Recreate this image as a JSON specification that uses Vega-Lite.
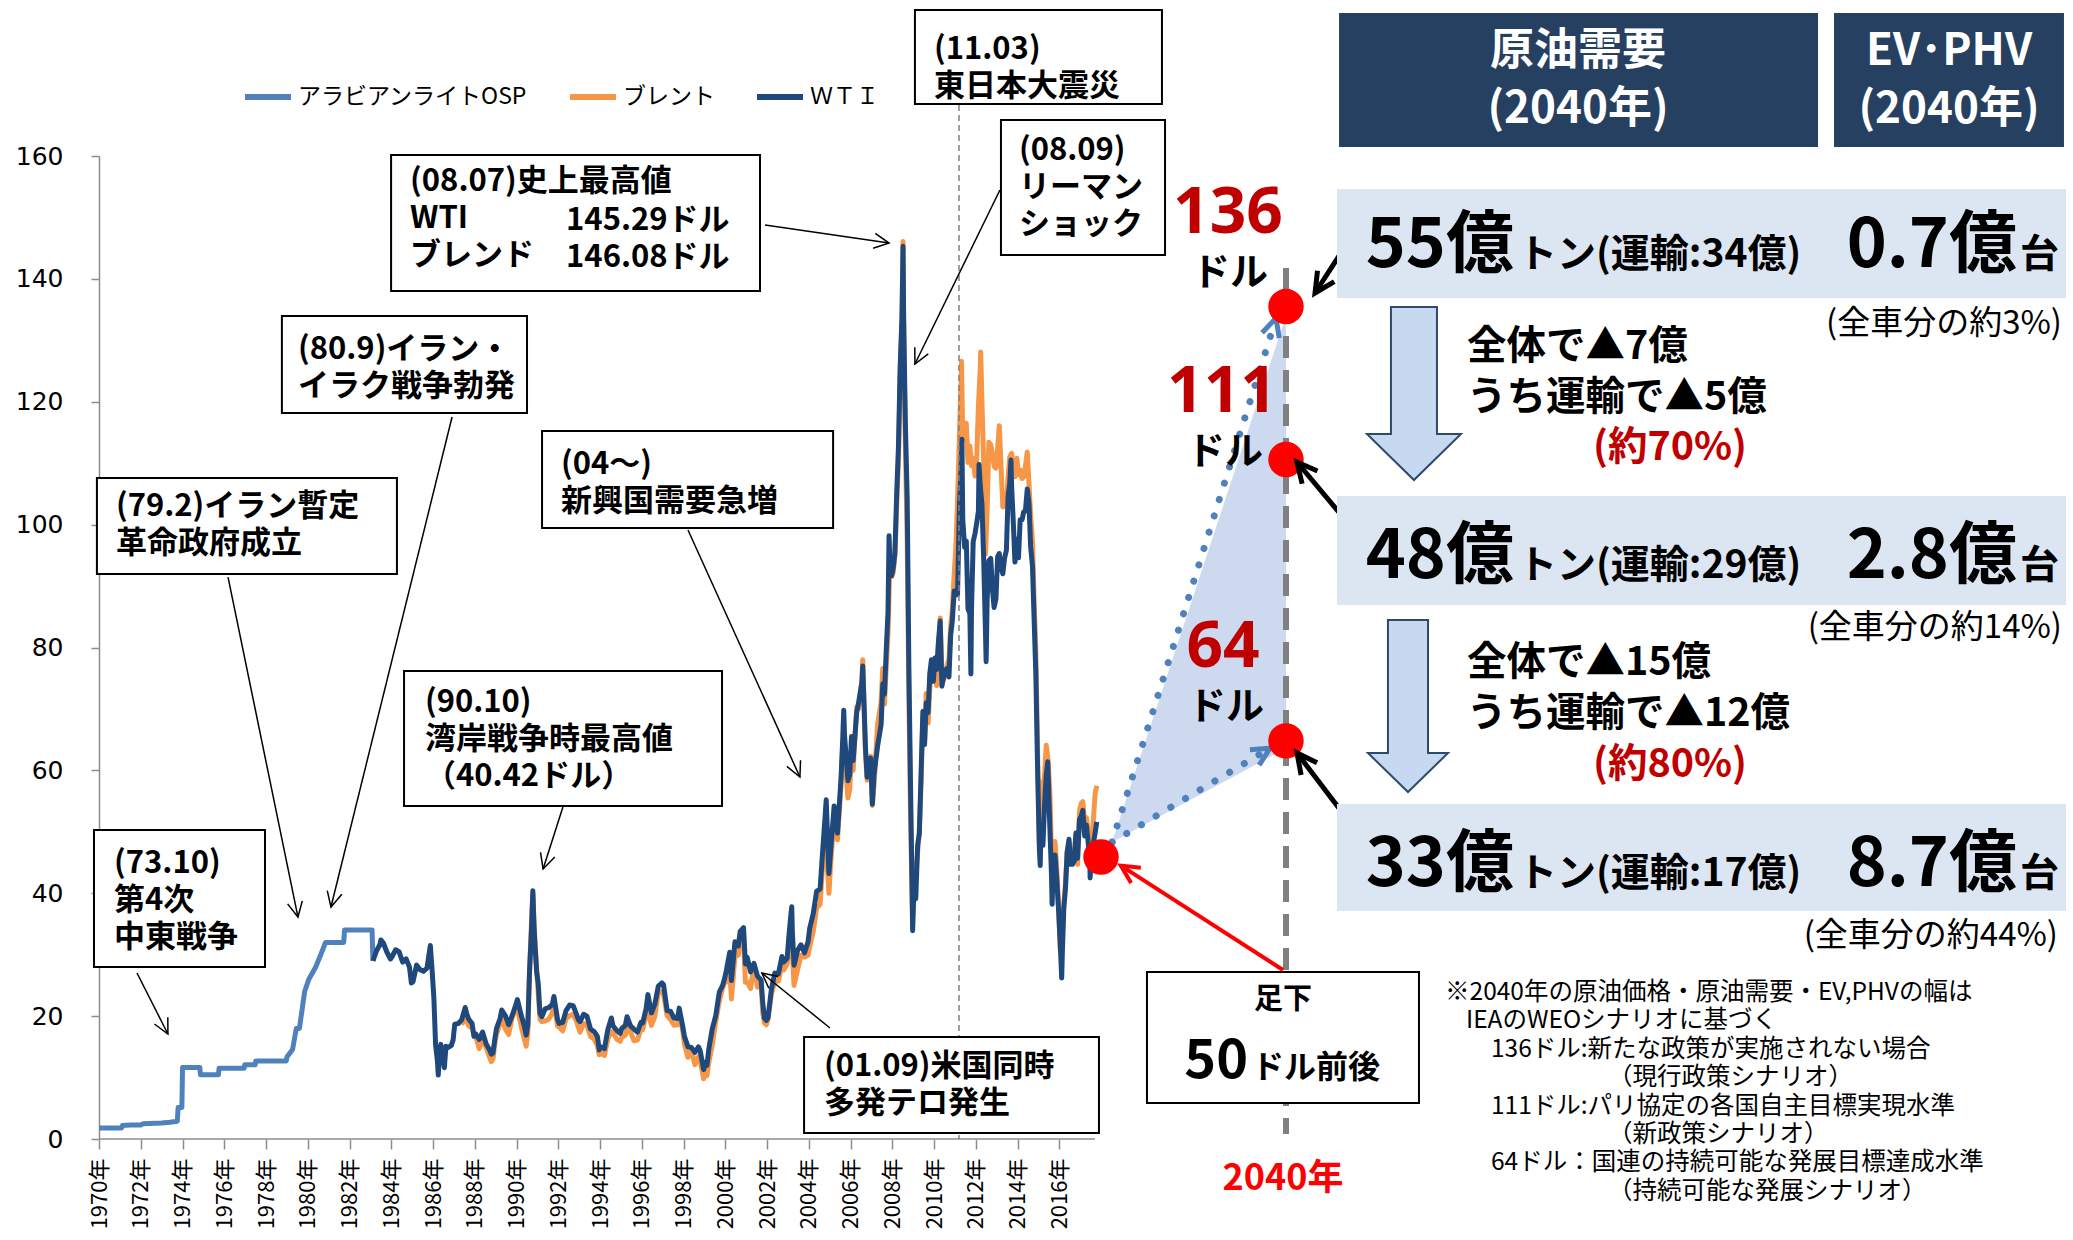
{
"$schema":"https://vega.github.io/schema/vega-lite/v6.json",
"width":1187,"height":983,
"autosize":"none",
"padding":{"left":99,"top":156,"right":787,"bottom":101},
"background":"#ffffff",
"config":{"view":{"stroke":null},"font":"Noto Sans CJK JP"},
"datasets":{
"osp":[{"t":1970.0,"v":1.8},{"t":1971.08,"v":1.8},{"t":1971.12,"v":2.18},{"t":1971.5,"v":2.28},{"t":1972.0,"v":2.28},{"t":1972.1,"v":2.47},{"t":1973.0,"v":2.59},{"t":1973.4,"v":2.74},{"t":1973.75,"v":2.9},{"t":1973.79,"v":5.12},{"t":1973.97,"v":5.12},{"t":1974.0,"v":11.65},{"t":1974.83,"v":11.65},{"t":1974.86,"v":10.46},{"t":1975.72,"v":10.46},{"t":1975.75,"v":11.51},{"t":1976.95,"v":11.51},{"t":1976.98,"v":12.09},{"t":1977.48,"v":12.09},{"t":1977.51,"v":12.7},{"t":1978.97,"v":12.7},{"t":1979.0,"v":13.34},{"t":1979.27,"v":14.55},{"t":1979.45,"v":18.0},{"t":1979.6,"v":18.0},{"t":1979.85,"v":24.0},{"t":1980.05,"v":26.0},{"t":1980.38,"v":28.0},{"t":1980.62,"v":30.0},{"t":1980.85,"v":32.0},{"t":1981.72,"v":32.0},{"t":1981.76,"v":34.0},{"t":1983.08,"v":34.0},{"t":1983.12,"v":29.0}],
"brent":[{"t":1987.37,"v":18.6},{"t":1987.54,"v":19.9},{"t":1987.71,"v":18.4},{"t":1987.87,"v":18.1},{"t":1987.96,"v":16.8},
{"t":1988.04,"v":16.8},{"t":1988.21,"v":14.7},{"t":1988.37,"v":16.2},{"t":1988.54,"v":14.9},{"t":1988.71,"v":13.3},{"t":1988.79,"v":12.6},{"t":1988.87,"v":13.0},{"t":1988.96,"v":15.6},
{"t":1989.04,"v":17.1},{"t":1989.21,"v":18.7},{"t":1989.29,"v":20.3},{"t":1989.46,"v":17.9},{"t":1989.62,"v":17.0},{"t":1989.79,"v":19.8},{"t":1989.96,"v":21.1},
{"t":1990.04,"v":21.3},{"t":1990.21,"v":18.5},{"t":1990.37,"v":16.3},{"t":1990.46,"v":15.1},{"t":1990.54,"v":17.2},{"t":1990.62,"v":27.2},{"t":1990.71,"v":34.9},{"t":1990.78,"v":40.0},{"t":1990.83,"v":36.0},{"t":1990.87,"v":32.9},{"t":1990.96,"v":27.8},
{"t":1991.04,"v":23.6},{"t":1991.12,"v":19.5},{"t":1991.21,"v":19.1},{"t":1991.37,"v":19.2},{"t":1991.54,"v":19.5},{"t":1991.71,"v":20.5},{"t":1991.79,"v":22.2},{"t":1991.96,"v":18.4},
{"t":1992.04,"v":18.2},{"t":1992.21,"v":17.6},{"t":1992.37,"v":19.6},{"t":1992.54,"v":20.1},{"t":1992.71,"v":20.3},{"t":1992.87,"v":19.2},{"t":1992.96,"v":18.2},
{"t":1993.04,"v":17.4},{"t":1993.21,"v":18.8},{"t":1993.37,"v":18.6},{"t":1993.54,"v":16.7},{"t":1993.71,"v":16.3},{"t":1993.87,"v":15.2},{"t":1993.96,"v":13.7},
{"t":1994.04,"v":14.0},{"t":1994.21,"v":13.6},{"t":1994.37,"v":16.3},{"t":1994.54,"v":17.5},{"t":1994.62,"v":17.3},{"t":1994.79,"v":16.3},{"t":1994.96,"v":15.9},
{"t":1995.04,"v":16.6},{"t":1995.21,"v":16.9},{"t":1995.29,"v":18.5},{"t":1995.46,"v":17.4},{"t":1995.62,"v":16.0},{"t":1995.79,"v":16.1},{"t":1995.96,"v":17.9},
{"t":1996.04,"v":17.8},{"t":1996.21,"v":20.2},{"t":1996.29,"v":20.9},{"t":1996.46,"v":18.5},{"t":1996.62,"v":19.9},{"t":1996.79,"v":24.0},{"t":1996.96,"v":23.9},
{"t":1997.04,"v":23.5},{"t":1997.21,"v":20.1},{"t":1997.37,"v":19.5},{"t":1997.54,"v":18.5},{"t":1997.71,"v":18.6},{"t":1997.79,"v":20.4},{"t":1997.96,"v":17.6},
{"t":1998.04,"v":15.4},{"t":1998.21,"v":13.3},{"t":1998.37,"v":14.5},{"t":1998.54,"v":12.1},{"t":1998.71,"v":13.4},{"t":1998.79,"v":12.8},{"t":1998.96,"v":9.8},
{"t":1999.04,"v":11.1},{"t":1999.12,"v":10.3},{"t":1999.21,"v":12.5},{"t":1999.37,"v":15.3},{"t":1999.54,"v":19.1},{"t":1999.71,"v":22.5},{"t":1999.87,"v":24.6},{"t":1999.96,"v":25.5},
{"t":2000.04,"v":25.5},{"t":2000.21,"v":27.5},{"t":2000.29,"v":22.8},{"t":2000.46,"v":29.8},{"t":2000.62,"v":29.9},{"t":2000.71,"v":33.0},{"t":2000.87,"v":32.5},{"t":2000.96,"v":25.5},
{"t":2001.04,"v":25.6},{"t":2001.21,"v":24.5},{"t":2001.37,"v":28.5},{"t":2001.54,"v":24.7},{"t":2001.71,"v":25.6},{"t":2001.79,"v":20.5},{"t":2001.87,"v":18.9},{"t":2001.96,"v":18.6},
{"t":2002.04,"v":19.4},{"t":2002.21,"v":23.7},{"t":2002.37,"v":25.6},{"t":2002.54,"v":25.7},{"t":2002.71,"v":28.4},{"t":2002.79,"v":27.5},{"t":2002.96,"v":28.5},
{"t":2003.04,"v":31.2},{"t":2003.12,"v":32.8},{"t":2003.21,"v":30.3},{"t":2003.29,"v":25.0},{"t":2003.46,"v":27.6},{"t":2003.62,"v":29.9},{"t":2003.79,"v":29.6},{"t":2003.96,"v":29.9},
{"t":2004.04,"v":31.4},{"t":2004.21,"v":33.8},{"t":2004.37,"v":37.6},{"t":2004.54,"v":38.2},{"t":2004.62,"v":42.7},{"t":2004.79,"v":49.8},{"t":2004.96,"v":40.0},
{"t":2005.04,"v":44.5},{"t":2005.21,"v":53.1},{"t":2005.29,"v":51.9},{"t":2005.37,"v":48.7},{"t":2005.54,"v":57.6},{"t":2005.62,"v":64.1},{"t":2005.71,"v":62.8},{"t":2005.87,"v":55.5},{"t":2005.96,"v":56.9},
{"t":2006.04,"v":63.1},{"t":2006.12,"v":60.0},{"t":2006.29,"v":70.3},{"t":2006.37,"v":70.0},{"t":2006.54,"v":74.4},{"t":2006.58,"v":78.0},{"t":2006.62,"v":73.1},{"t":2006.71,"v":62.8},{"t":2006.79,"v":58.4},{"t":2006.96,"v":62.3},
{"t":2007.04,"v":54.3},{"t":2007.12,"v":57.6},{"t":2007.29,"v":67.5},{"t":2007.46,"v":71.1},{"t":2007.54,"v":76.6},{"t":2007.62,"v":70.8},{"t":2007.71,"v":77.1},{"t":2007.79,"v":82.3},{"t":2007.87,"v":92.5},{"t":2007.96,"v":91.5},
{"t":2008.04,"v":92.2},{"t":2008.12,"v":94.9},{"t":2008.21,"v":103.3},{"t":2008.29,"v":110.4},{"t":2008.37,"v":123.9},{"t":2008.46,"v":133.1},{"t":2008.51,"v":146.1},{"t":2008.54,"v":133.0},{"t":2008.62,"v":113.2},{"t":2008.71,"v":97.2},{"t":2008.79,"v":71.6},{"t":2008.87,"v":52.5},{"t":2008.94,"v":40.4},{"t":2008.97,"v":36.0},
{"t":2009.04,"v":44.9},{"t":2009.12,"v":43.2},{"t":2009.21,"v":46.8},{"t":2009.29,"v":50.1},{"t":2009.37,"v":57.5},{"t":2009.46,"v":68.6},{"t":2009.54,"v":64.4},{"t":2009.62,"v":72.5},{"t":2009.71,"v":67.7},{"t":2009.79,"v":73.2},{"t":2009.87,"v":77.0},{"t":2009.96,"v":74.7},
{"t":2010.04,"v":76.2},{"t":2010.12,"v":73.8},{"t":2010.21,"v":78.8},{"t":2010.29,"v":84.8},{"t":2010.37,"v":75.9},{"t":2010.46,"v":74.8},{"t":2010.54,"v":75.6},{"t":2010.62,"v":77.1},{"t":2010.71,"v":78.2},{"t":2010.79,"v":83.5},{"t":2010.87,"v":86.1},{"t":2010.96,"v":92.0},
{"t":2011.04,"v":96.5},{"t":2011.12,"v":103.7},{"t":2011.21,"v":114.6},{"t":2011.29,"v":123.3},{"t":2011.31,"v":126.6},{"t":2011.37,"v":114.5},{"t":2011.46,"v":113.9},{"t":2011.54,"v":116.5},{"t":2011.62,"v":110.1},{"t":2011.71,"v":112.8},{"t":2011.79,"v":109.6},{"t":2011.87,"v":110.8},{"t":2011.96,"v":107.9},
{"t":2012.04,"v":110.7},{"t":2012.12,"v":119.3},{"t":2012.21,"v":125.5},{"t":2012.23,"v":128.1},{"t":2012.29,"v":119.8},{"t":2012.37,"v":110.3},{"t":2012.46,"v":95.2},{"t":2012.54,"v":102.6},{"t":2012.62,"v":113.4},{"t":2012.71,"v":113.0},{"t":2012.79,"v":111.5},{"t":2012.87,"v":109.5},{"t":2012.96,"v":109.2},
{"t":2013.04,"v":112.3},{"t":2013.12,"v":116.1},{"t":2013.21,"v":109.0},{"t":2013.29,"v":102.9},{"t":2013.37,"v":103.0},{"t":2013.46,"v":103.1},{"t":2013.54,"v":107.7},{"t":2013.62,"v":111.0},{"t":2013.71,"v":111.6},{"t":2013.79,"v":109.1},{"t":2013.87,"v":107.8},{"t":2013.96,"v":110.8},
{"t":2014.04,"v":108.1},{"t":2014.12,"v":108.9},{"t":2014.21,"v":107.5},{"t":2014.29,"v":107.8},{"t":2014.37,"v":109.5},{"t":2014.46,"v":111.8},{"t":2014.54,"v":106.8},{"t":2014.62,"v":101.6},{"t":2014.71,"v":97.1},{"t":2014.79,"v":87.4},{"t":2014.87,"v":79.4},{"t":2014.96,"v":62.3},
{"t":2015.04,"v":47.8},{"t":2015.12,"v":58.1},{"t":2015.21,"v":56.0},{"t":2015.29,"v":59.5},{"t":2015.37,"v":64.1},{"t":2015.46,"v":61.5},{"t":2015.54,"v":56.6},{"t":2015.62,"v":46.5},{"t":2015.71,"v":47.6},{"t":2015.79,"v":48.4},{"t":2015.87,"v":44.3},{"t":2015.96,"v":38.0},
{"t":2016.04,"v":30.7},{"t":2016.12,"v":32.2},{"t":2016.21,"v":38.2},{"t":2016.29,"v":41.6},{"t":2016.37,"v":46.7},{"t":2016.46,"v":48.3},{"t":2016.54,"v":44.9},{"t":2016.62,"v":45.8},{"t":2016.71,"v":46.6},{"t":2016.79,"v":49.5},{"t":2016.87,"v":44.7},{"t":2016.96,"v":53.3},
{"t":2017.04,"v":54.6},{"t":2017.12,"v":54.9},{"t":2017.21,"v":51.6},{"t":2017.29,"v":52.3},{"t":2017.37,"v":50.3},{"t":2017.46,"v":46.4},{"t":2017.54,"v":48.5},{"t":2017.62,"v":51.7},{"t":2017.71,"v":56.2},{"t":2017.79,"v":57.5}],
"wti":[{"t":1983.12,"v":29.0},{"t":1983.29,"v":30.6},{"t":1983.46,"v":31.7},{"t":1983.5,"v":32.4},{"t":1983.62,"v":31.9},{"t":1983.79,"v":30.4},{"t":1983.96,"v":29.3},
{"t":1984.04,"v":29.7},{"t":1984.21,"v":30.8},{"t":1984.37,"v":30.5},{"t":1984.54,"v":28.8},{"t":1984.71,"v":29.3},{"t":1984.87,"v":28.0},{"t":1984.96,"v":25.4},
{"t":1985.04,"v":25.6},{"t":1985.21,"v":28.3},{"t":1985.37,"v":27.6},{"t":1985.54,"v":27.3},{"t":1985.71,"v":27.8},{"t":1985.87,"v":31.5},{"t":1985.96,"v":27.2},
{"t":1986.04,"v":22.9},{"t":1986.12,"v":15.4},{"t":1986.21,"v":12.6},{"t":1986.25,"v":10.4},{"t":1986.29,"v":12.8},{"t":1986.37,"v":15.4},{"t":1986.46,"v":13.5},{"t":1986.54,"v":11.6},{"t":1986.62,"v":15.1},{"t":1986.71,"v":14.9},{"t":1986.87,"v":15.2},{"t":1986.96,"v":16.1},
{"t":1987.04,"v":18.7},{"t":1987.21,"v":18.8},{"t":1987.37,"v":19.4},{"t":1987.54,"v":21.4},{"t":1987.62,"v":20.3},{"t":1987.71,"v":19.5},{"t":1987.87,"v":18.8},{"t":1987.96,"v":16.7},
{"t":1988.04,"v":17.1},{"t":1988.21,"v":16.2},{"t":1988.37,"v":17.4},{"t":1988.54,"v":15.5},{"t":1988.71,"v":14.5},{"t":1988.79,"v":13.8},{"t":1988.87,"v":14.0},{"t":1988.96,"v":16.3},
{"t":1989.04,"v":18.0},{"t":1989.21,"v":19.6},{"t":1989.29,"v":21.0},{"t":1989.46,"v":20.1},{"t":1989.62,"v":18.6},{"t":1989.79,"v":20.1},{"t":1989.96,"v":21.8},
{"t":1990.04,"v":22.7},{"t":1990.21,"v":20.3},{"t":1990.37,"v":18.4},{"t":1990.46,"v":16.9},{"t":1990.54,"v":18.6},{"t":1990.62,"v":27.2},{"t":1990.71,"v":33.7},{"t":1990.78,"v":40.4},{"t":1990.83,"v":35.0},{"t":1990.87,"v":32.3},{"t":1990.96,"v":27.3},
{"t":1991.04,"v":25.2},{"t":1991.12,"v":20.5},{"t":1991.21,"v":19.9},{"t":1991.37,"v":21.2},{"t":1991.54,"v":21.4},{"t":1991.71,"v":21.9},{"t":1991.79,"v":23.2},{"t":1991.96,"v":19.5},
{"t":1992.04,"v":18.8},{"t":1992.21,"v":19.0},{"t":1992.37,"v":20.9},{"t":1992.54,"v":21.8},{"t":1992.71,"v":21.7},{"t":1992.87,"v":20.3},{"t":1992.96,"v":19.4},
{"t":1993.04,"v":19.1},{"t":1993.21,"v":20.3},{"t":1993.37,"v":20.0},{"t":1993.54,"v":17.9},{"t":1993.71,"v":17.5},{"t":1993.87,"v":16.7},{"t":1993.96,"v":14.5},
{"t":1994.04,"v":15.0},{"t":1994.21,"v":14.7},{"t":1994.37,"v":17.8},{"t":1994.54,"v":19.7},{"t":1994.62,"v":18.4},{"t":1994.79,"v":17.7},{"t":1994.96,"v":17.2},
{"t":1995.04,"v":18.0},{"t":1995.21,"v":18.5},{"t":1995.29,"v":19.9},{"t":1995.46,"v":18.4},{"t":1995.62,"v":17.9},{"t":1995.79,"v":17.4},{"t":1995.96,"v":19.0},
{"t":1996.04,"v":18.9},{"t":1996.21,"v":21.3},{"t":1996.29,"v":23.5},{"t":1996.46,"v":20.5},{"t":1996.62,"v":21.9},{"t":1996.79,"v":24.9},{"t":1996.96,"v":25.4},
{"t":1997.04,"v":25.1},{"t":1997.21,"v":20.9},{"t":1997.37,"v":20.8},{"t":1997.54,"v":19.7},{"t":1997.71,"v":19.6},{"t":1997.79,"v":21.3},{"t":1997.96,"v":18.3},
{"t":1998.04,"v":16.7},{"t":1998.21,"v":15.0},{"t":1998.37,"v":14.9},{"t":1998.54,"v":14.1},{"t":1998.71,"v":15.0},{"t":1998.79,"v":14.4},{"t":1998.96,"v":11.3},
{"t":1999.04,"v":12.5},{"t":1999.12,"v":12.0},{"t":1999.21,"v":14.7},{"t":1999.37,"v":17.9},{"t":1999.54,"v":20.1},{"t":1999.71,"v":23.9},{"t":1999.87,"v":25.0},{"t":1999.96,"v":26.1},
{"t":2000.04,"v":27.3},{"t":2000.21,"v":30.4},{"t":2000.29,"v":25.8},{"t":2000.46,"v":32.1},{"t":2000.62,"v":31.4},{"t":2000.71,"v":33.8},{"t":2000.87,"v":34.4},{"t":2000.96,"v":28.5},
{"t":2001.04,"v":29.6},{"t":2001.21,"v":27.2},{"t":2001.37,"v":28.6},{"t":2001.54,"v":26.5},{"t":2001.71,"v":25.9},{"t":2001.79,"v":22.2},{"t":2001.87,"v":19.7},{"t":2001.96,"v":19.3},
{"t":2002.04,"v":19.7},{"t":2002.21,"v":24.5},{"t":2002.37,"v":27.0},{"t":2002.54,"v":26.9},{"t":2002.71,"v":29.7},{"t":2002.79,"v":28.8},{"t":2002.96,"v":29.4},
{"t":2003.04,"v":32.9},{"t":2003.12,"v":35.9},{"t":2003.18,"v":37.8},{"t":2003.21,"v":33.6},{"t":2003.29,"v":28.3},{"t":2003.46,"v":30.7},{"t":2003.62,"v":31.6},{"t":2003.79,"v":30.3},{"t":2003.96,"v":32.1},
{"t":2004.04,"v":34.3},{"t":2004.21,"v":36.7},{"t":2004.37,"v":40.3},{"t":2004.54,"v":40.7},{"t":2004.62,"v":44.9},{"t":2004.79,"v":53.1},{"t":2004.83,"v":55.2},{"t":2004.96,"v":43.2},
{"t":2005.04,"v":46.8},{"t":2005.21,"v":54.2},{"t":2005.29,"v":53.0},{"t":2005.37,"v":49.8},{"t":2005.54,"v":58.7},{"t":2005.62,"v":65.0},{"t":2005.67,"v":69.8},{"t":2005.71,"v":65.6},{"t":2005.87,"v":58.3},{"t":2005.96,"v":59.4},
{"t":2006.04,"v":65.5},{"t":2006.12,"v":61.6},{"t":2006.29,"v":69.4},{"t":2006.37,"v":70.8},{"t":2006.54,"v":74.4},{"t":2006.58,"v":77.0},{"t":2006.62,"v":73.0},{"t":2006.71,"v":63.8},{"t":2006.79,"v":58.9},{"t":2006.96,"v":62.0},
{"t":2007.04,"v":54.5},{"t":2007.12,"v":59.3},{"t":2007.29,"v":63.9},{"t":2007.46,"v":67.5},{"t":2007.54,"v":74.1},{"t":2007.62,"v":72.4},{"t":2007.71,"v":79.9},{"t":2007.79,"v":85.8},{"t":2007.84,"v":98.2},{"t":2007.87,"v":94.8},{"t":2007.96,"v":91.7},
{"t":2008.04,"v":93.0},{"t":2008.12,"v":95.4},{"t":2008.21,"v":105.5},{"t":2008.29,"v":112.6},{"t":2008.37,"v":125.4},{"t":2008.46,"v":133.9},{"t":2008.51,"v":145.3},{"t":2008.54,"v":133.4},{"t":2008.62,"v":116.7},{"t":2008.71,"v":104.1},{"t":2008.79,"v":76.6},{"t":2008.87,"v":57.3},{"t":2008.94,"v":41.1},{"t":2008.97,"v":33.9},
{"t":2009.04,"v":41.7},{"t":2009.12,"v":39.1},{"t":2009.21,"v":47.9},{"t":2009.29,"v":49.7},{"t":2009.37,"v":59.0},{"t":2009.46,"v":69.6},{"t":2009.54,"v":64.2},{"t":2009.62,"v":71.0},{"t":2009.71,"v":69.4},{"t":2009.79,"v":75.7},{"t":2009.87,"v":78.0},{"t":2009.96,"v":74.5},
{"t":2010.04,"v":78.3},{"t":2010.12,"v":76.4},{"t":2010.21,"v":81.2},{"t":2010.29,"v":84.3},{"t":2010.37,"v":73.7},{"t":2010.46,"v":75.3},{"t":2010.54,"v":76.3},{"t":2010.62,"v":76.6},{"t":2010.71,"v":75.2},{"t":2010.79,"v":81.9},{"t":2010.87,"v":84.3},{"t":2010.96,"v":89.2},
{"t":2011.04,"v":89.2},{"t":2011.12,"v":88.6},{"t":2011.21,"v":102.9},{"t":2011.29,"v":109.5},{"t":2011.33,"v":113.9},{"t":2011.37,"v":100.9},{"t":2011.46,"v":96.3},{"t":2011.54,"v":97.3},{"t":2011.62,"v":86.3},{"t":2011.71,"v":85.5},{"t":2011.76,"v":75.7},{"t":2011.79,"v":86.3},{"t":2011.87,"v":97.2},{"t":2011.96,"v":98.6},
{"t":2012.04,"v":100.3},{"t":2012.12,"v":102.2},{"t":2012.15,"v":109.8},{"t":2012.21,"v":106.2},{"t":2012.29,"v":103.3},{"t":2012.37,"v":94.7},{"t":2012.46,"v":82.3},{"t":2012.49,"v":77.7},{"t":2012.54,"v":87.9},{"t":2012.62,"v":94.1},{"t":2012.71,"v":94.5},{"t":2012.79,"v":89.5},{"t":2012.87,"v":86.5},{"t":2012.96,"v":87.9},
{"t":2013.04,"v":94.8},{"t":2013.12,"v":95.3},{"t":2013.21,"v":92.9},{"t":2013.29,"v":92.0},{"t":2013.37,"v":94.5},{"t":2013.46,"v":95.8},{"t":2013.54,"v":104.6},{"t":2013.62,"v":106.6},{"t":2013.68,"v":110.5},{"t":2013.71,"v":106.3},{"t":2013.79,"v":100.5},{"t":2013.87,"v":93.9},{"t":2013.96,"v":97.6},
{"t":2014.04,"v":94.6},{"t":2014.12,"v":100.8},{"t":2014.21,"v":100.8},{"t":2014.29,"v":102.1},{"t":2014.37,"v":102.2},{"t":2014.46,"v":105.8},{"t":2014.54,"v":103.6},{"t":2014.62,"v":96.5},{"t":2014.71,"v":93.2},{"t":2014.79,"v":84.4},{"t":2014.87,"v":75.8},{"t":2014.96,"v":59.3},
{"t":2015.04,"v":47.2},{"t":2015.08,"v":44.5},{"t":2015.12,"v":50.6},{"t":2015.21,"v":47.8},{"t":2015.29,"v":54.5},{"t":2015.37,"v":59.3},{"t":2015.44,"v":61.4},{"t":2015.54,"v":50.9},{"t":2015.62,"v":42.9},{"t":2015.65,"v":38.2},{"t":2015.71,"v":45.5},{"t":2015.79,"v":46.2},{"t":2015.87,"v":42.4},{"t":2015.96,"v":37.2},
{"t":2016.04,"v":31.7},{"t":2016.11,"v":26.2},{"t":2016.14,"v":30.3},{"t":2016.21,"v":37.5},{"t":2016.29,"v":40.8},{"t":2016.37,"v":46.7},{"t":2016.46,"v":48.8},{"t":2016.54,"v":44.7},{"t":2016.62,"v":44.7},{"t":2016.71,"v":45.2},{"t":2016.79,"v":49.8},{"t":2016.87,"v":45.7},{"t":2016.96,"v":52.0},
{"t":2017.04,"v":52.5},{"t":2017.12,"v":53.5},{"t":2017.21,"v":49.3},{"t":2017.29,"v":51.1},{"t":2017.37,"v":48.5},{"t":2017.46,"v":45.2},{"t":2017.47,"v":42.5},{"t":2017.54,"v":46.6},{"t":2017.62,"v":48.0},{"t":2017.71,"v":49.8},{"t":2017.79,"v":51.6}],
"fan":[{"t":2019.56,"hi":48.3,"lo":48.3},{"t":2040,"hi":134,"lo":63.6}],
"fanLines":[{"x":2019.56,"y":48.3,"x2":2038.83,"y2":133.6},{"x":2019.56,"y":48.3,"x2":2038.12,"y2":63.6}],
"circles":[{"t":2018.27,"v":45.9},{"t":2040,"v":135.5},{"t":2040,"v":110.6},{"t":2040,"v":64.8}],
"vthin":[{"x":2011.19,"y":168.29,"y2":0}],
"vthick":[{"x":2040,"y":141.76,"y2":0.81}],
"baseline":[{"x":1970,"x2":2017.7,"y":0}],
"boxes":[{"x":1983.99,"x2":2001.66,"y":160.16,"y2":138.02},{"x":2009.08,"x2":2025.43,"y":183.76,"y2":168.46},{"x":2013.2,"x2":2025.79,"y":165.85,"y2":143.88},{"x":1978.76,"x2":1990.5,"y":133.95,"y2":118.16},{"x":1969.9,"x2":1984.27,"y":107.58,"y2":91.96},{"x":1991.22,"x2":2005.16,"y":115.23,"y2":99.45},{"x":1984.61,"x2":1999.84,"y":76.17,"y2":54.2},{"x":1969.76,"x2":1977.95,"y":50.29,"y2":27.99},{"x":2003.77,"x2":2018.03,"y":16.6,"y2":0.98},{"x":2023.67,"x2":2055.62,"y":27.18,"y2":5.86}],
"thinArrows":[{"x":2001.9,"y":148.76,"x2":2007.84,"y2":145.83},{"x":2013.15,"y":154.46,"x2":2009.08,"y2":126.14},{"x":1986.91,"y":117.51,"x2":1981.11,"y2":37.76},{"x":1976.18,"y":91.47,"x2":1979.53,"y2":36.13},{"x":1998.21,"y":99.12,"x2":2003.57,"y2":58.92},{"x":1992.22,"y":54.04,"x2":1991.27,"y2":43.95},{"x":1971.82,"y":27.02,"x2":1973.3,"y2":17.09},{"x":2005.01,"y":18.07,"x2":2001.75,"y2":27.02}],
"thickArrows":[{"x":2047.28,"y":146.0,"x2":2043.41,"y2":137.7},{"x":2047.28,"y":100.26,"x2":2041.29,"y2":110.19},{"x":2047.28,"y":51.92,"x2":2041.29,"y2":62.83}],
"redArrow":[{"x":2039.65,"y":27.51,"x2":2020.6,"y2":44.5}],
"ann":[{"x":1984.9,"y":155.76,"text":"(08.07)史上最高値\nWTI\nブレンド"},{"x":1992.37,"y":149.41,"text":"145.29ドル\n146.08ドル"},{"x":2009.99,"y":177.25,"text":"(11.03)\n東日本大震災"},{"x":2014.06,"y":160.81,"text":"(08.09)\nリーマン\nショック"},{"x":1979.53,"y":128.42,"text":"(80.9)イラン・\nイラク戦争勃発"},{"x":1970.81,"y":102.86,"text":"(79.2)イラン暫定\n革命政府成立"},{"x":1992.13,"y":109.7,"text":"(04～)\n新興国需要急増"},{"x":1985.61,"y":70.96,"text":"(90.10)\n湾岸戦争時最高値\n（40.42ドル）"},{"x":1970.72,"y":44.76,"text":"(73.10)\n第4次\n中東戦争"},{"x":2004.72,"y":11.72,"text":"(01.09)米国同時\n多発テロ発生"}],
"scenNum":[{"x":2033.19,"y":150.6,"text":"136"},{"x":2032.48,"y":121.5,"text":"111"},{"x":2032.6,"y":80.0,"text":"64"}],
"scenUnit":[{"x":2033.42,"y":140.8,"text":"ドル"},{"x":2032.83,"y":111.7,"text":"ドル"},{"x":2032.95,"y":70.2,"text":"ドル"}],
"hdr":[{"x":2046.23,"x2":2102.49,"y":183.27,"y2":161.46},{"x":2104.37,"x2":2131.38,"y":183.27,"y2":161.46}],
"hdrText":[{"x":2074.3,"y":176.92,"text":"原油需要\n(2040年)"},{"x":2117.88,"y":176.92,"text":"EV･PHV\n(2040年)"}],
"rowsBg":[{"x":2045.99,"x2":2131.62,"y":154.62,"y2":136.88},{"x":2045.99,"x2":2131.62,"y":104.65,"y2":86.91},{"x":2045.99,"x2":2131.62,"y":54.52,"y2":37.11}],
"bigNum":[{"x":2066.78,"y":141.93,"text":"55億"},{"x":2125.86,"y":141.93,"text":"0.7億"},{"x":2066.78,"y":91.31,"text":"48億"},{"x":2125.86,"y":91.31,"text":"2.8億"},{"x":2066.78,"y":41.18,"text":"33億"},{"x":2125.86,"y":41.18,"text":"8.7億"}],
"smallUnit":[{"x":2067.25,"y":141.93,"text":"トン(運輸:34億)"},{"x":2126.21,"y":141.93,"text":"台"},{"x":2067.25,"y":91.31,"text":"トン(運輸:29億)"},{"x":2126.21,"y":91.31,"text":"台"},{"x":2067.25,"y":41.18,"text":"トン(運輸:17億)"},{"x":2126.21,"y":41.18,"text":"台"}],
"share":[{"x":2131.15,"y":132.65,"text":"(全車分の約3%)"},{"x":2131.15,"y":83.17,"text":"(全車分の約14%)"},{"x":2130.68,"y":33.04,"text":"(全車分の約44%)"}],
"cut":[{"x":2061.26,"y":128.91,"text":"全体で▲7億\nうち運輸で▲5億"},{"x":2061.26,"y":77.47,"text":"全体で▲15億\nうち運輸で▲12億"}],
"cutPct":[{"x":2076.06,"y":112.47,"text":"(約70%)"},{"x":2076.06,"y":60.87,"text":"(約80%)"}],
"arrowDown1":[{"x":2055.03,"y":121.34}],
"arrowDown2":[{"x":2054.33,"y":70.48}],
"foot":[{"x":2058.68,"y":23.76,"text":"※2040年の原油価格・原油需要・EV,PHVの幅は"},{"x":2061.14,"y":19.21,"text":"IEAのWEOシナリオに基づく"},{"x":2064.08,"y":14.49,"text":"136ドル:新たな政策が実施されない場合"},{"x":2077.82,"y":9.93,"text":"（現行政策シナリオ）"},{"x":2064.08,"y":5.21,"text":"111ドル:パリ協定の各国自主目標実現水準"},{"x":2077.82,"y":0.65,"text":"（新政策シナリオ）"},{"x":2064.08,"y":-3.91,"text":"64ドル：国連の持続可能な発展目標達成水準"},{"x":2077.82,"y":-8.63,"text":"（持続可能な発展シナリオ）"}],
"ashimoto":[{"x":2039.65,"y":22.62,"text":"足下"}],
"fifty":[{"x":2035.54,"y":9.93,"text":"50"}],
"fiftyUnit":[{"x":2036.01,"y":9.93,"text":"ドル前後"}],
"yearLabel":[{"x":2039.65,"y":-6.51,"text":"2040年"}]
},
"layer":[
{"data":{"name":"osp"},"mark":{"type":"line","strokeWidth":5,"strokeJoin":"round"},
 "encoding":{
  "x":{"field":"t","type":"quantitative","scale":{"domain":[1970,2017.8,2040],"range":[0,998,1187],"nice":false,"zero":false},
   "axis":{"title":null,"values":[1970,1972,1974,1976,1978,1980,1982,1984,1986,1988,1990,1992,1994,1996,1998,2000,2002,2004,2006,2008,2010,2012,2014,2016],"labelExpr":"datum.value + '年'","labelAngle":-90,"labelFont":"Noto Sans CJK JP","labelFontSize":22,"labelColor":"#000000","labelFlush":false,"labelOverlap":false,"domain":false,"ticks":true,"tickSize":10,"tickColor":"#8c8c8c","tickWidth":1.5,"labelPadding":9,"grid":false}},
  "y":{"field":"v","type":"quantitative","scale":{"domain":[0,160],"nice":false,"zero":false},
   "axis":{"title":null,"values":[0,20,40,60,80,100,120,140,160],"labelFont":"DejaVu Sans","labelFontSize":25,"labelColor":"#000000","labelPadding":28,"tickSize":8,"tickColor":"#8c8c8c","tickWidth":1.5,"domainColor":"#8c8c8c","domainWidth":1.5,"grid":false,"labelOverlap":false}},
  "color":{"datum":"アラビアンライトOSP","scale":{"domain":["アラビアンライトOSP","ブレント","ＷＴＩ"],"range":["#4F81BD","#F79646","#1F497D"]},
   "legend":{"orient":"none","legendX":143,"legendY":-85,"direction":"horizontal","title":null,"symbolType":"stroke","symbolSize":2116,"symbolStrokeWidth":6,"labelFont":"Noto Sans CJK JP","labelFontSize":23,"labelColor":"#000000","labelOffset":4,"columnPadding":30,"padding":0,"labelLimit":400}}}},
{"data":{"name":"brent"},"mark":{"type":"line","strokeWidth":5,"strokeJoin":"round"},
 "encoding":{"x":{"field":"t","type":"quantitative","title":null},"y":{"field":"v","type":"quantitative","title":null},"color":{"datum":"ブレント"}}},
{"data":{"name":"wti"},"mark":{"type":"line","strokeWidth":5,"strokeJoin":"round"},
 "encoding":{"x":{"field":"t","type":"quantitative","title":null},"y":{"field":"v","type":"quantitative","title":null},"color":{"datum":"ＷＴＩ"}}},
{"data":{"name":"fan"},"mark":{"type":"area","color":"#8eaadb","opacity":0.45},
 "encoding":{"x":{"field":"t","type":"quantitative","title":null},"y":{"field":"hi","type":"quantitative","title":null},"y2":{"field":"lo"}}},
{"data":{"name":"fanLines"},"mark":{"type":"rule","color":"#4F81BD","strokeWidth":7,"strokeCap":"round","strokeDash":[0.1,17]},
 "encoding":{"x":{"field":"x","type":"quantitative","title":null},"y":{"field":"y","type":"quantitative","title":null},"x2":{"field":"x2"},"y2":{"field":"y2"}}},
{"data":{"name":"fanLines"},"mark":{"type":"point","shape":"M -0.5 1 L 0 0 L 0.5 1","filled":false,"size":1296,"stroke":"#4F81BD","strokeWidth":5,"opacity":1,"angle":{"expr":"atan2(scale('x', datum.x2) - scale('x', datum.x), scale('y', datum.y) - scale('y', datum.y2)) * 180 / PI"}},
 "encoding":{"x":{"field":"x2","type":"quantitative","title":null},"y":{"field":"y2","type":"quantitative","title":null}}},
{"data":{"name":"vthin"},"mark":{"type":"rule","color":"#808080","strokeWidth":1.5,"strokeDash":[6,4]},
 "encoding":{"x":{"field":"x","type":"quantitative","title":null},"y":{"field":"y","type":"quantitative","title":null},"y2":{"field":"y2"}}},
{"data":{"name":"vthick"},"mark":{"type":"rule","color":"#808080","strokeWidth":6,"strokeDash":[22,12]},
 "encoding":{"x":{"field":"x","type":"quantitative","title":null},"y":{"field":"y","type":"quantitative","title":null},"y2":{"field":"y2"}}},
{"data":{"name":"baseline"},"mark":{"type":"rule","color":"#8c8c8c","strokeWidth":1.5},
 "encoding":{"x":{"field":"x","type":"quantitative","title":null},"x2":{"field":"x2"},"y":{"field":"y","type":"quantitative","title":null}}},
{"data":{"name":"boxes"},"mark":{"type":"rect","fill":"#ffffff","stroke":"#000000","strokeWidth":2},
 "encoding":{"x":{"field":"x","type":"quantitative","title":null},"x2":{"field":"x2"},"y":{"field":"y","type":"quantitative","title":null},"y2":{"field":"y2"}}},
{"data":{"name":"circles"},"mark":{"type":"point","shape":"circle","filled":true,"size":1257,"color":"#FF0000","opacity":1},
 "encoding":{"x":{"field":"t","type":"quantitative","title":null},"y":{"field":"v","type":"quantitative","title":null}}},
{"data":{"name":"thinArrows"},"mark":{"type":"rule","color":"#000000","strokeWidth":1.5},
 "encoding":{"x":{"field":"x","type":"quantitative","title":null},"y":{"field":"y","type":"quantitative","title":null},"x2":{"field":"x2"},"y2":{"field":"y2"}}},
{"data":{"name":"thinArrows"},"mark":{"type":"point","shape":"M -0.5 1 L 0 0 L 0.5 1","filled":false,"size":900,"stroke":"#000000","strokeWidth":1.5,"opacity":1,"angle":{"expr":"atan2(scale('x', datum.x2) - scale('x', datum.x), scale('y', datum.y) - scale('y', datum.y2)) * 180 / PI"}},
 "encoding":{"x":{"field":"x2","type":"quantitative","title":null},"y":{"field":"y2","type":"quantitative","title":null}}},
{"data":{"name":"thickArrows"},"mark":{"type":"rule","color":"#000000","strokeWidth":5},
 "encoding":{"x":{"field":"x","type":"quantitative","title":null},"y":{"field":"y","type":"quantitative","title":null},"x2":{"field":"x2"},"y2":{"field":"y2"}}},
{"data":{"name":"thickArrows"},"mark":{"type":"point","shape":"M -0.5 1 L 0 0 L 0.5 1","filled":false,"size":1600,"stroke":"#000000","strokeWidth":5,"opacity":1,"angle":{"expr":"atan2(scale('x', datum.x2) - scale('x', datum.x), scale('y', datum.y) - scale('y', datum.y2)) * 180 / PI"}},
 "encoding":{"x":{"field":"x2","type":"quantitative","title":null},"y":{"field":"y2","type":"quantitative","title":null}}},
{"data":{"name":"redArrow"},"mark":{"type":"rule","color":"#FF0000","strokeWidth":4},
 "encoding":{"x":{"field":"x","type":"quantitative","title":null},"y":{"field":"y","type":"quantitative","title":null},"x2":{"field":"x2"},"y2":{"field":"y2"}}},
{"data":{"name":"redArrow"},"mark":{"type":"point","shape":"M -0.5 1 L 0 0 L 0.5 1","filled":false,"size":1296,"stroke":"#FF0000","strokeWidth":4,"opacity":1,"angle":{"expr":"atan2(scale('x', datum.x2) - scale('x', datum.x), scale('y', datum.y) - scale('y', datum.y2)) * 180 / PI"}},
 "encoding":{"x":{"field":"x2","type":"quantitative","title":null},"y":{"field":"y2","type":"quantitative","title":null}}},
{"data":{"name":"ann"},"mark":{"type":"text","align":"left","baseline":"middle","lineBreak":"\n","lineHeight":37,"font":"Noto Sans CJK JP","fontSize":31,"fontWeight":"bold","color":"#000000"},
 "encoding":{"x":{"field":"x","type":"quantitative","title":null},"y":{"field":"y","type":"quantitative","title":null},"text":{"field":"text"}}},
{"data":{"name":"scenNum"},"mark":{"type":"text","align":"center","baseline":"middle","font":"Noto Sans","fontSize":64,"fontWeight":"bold","color":"#C00000"},
 "encoding":{"x":{"field":"x","type":"quantitative","title":null},"y":{"field":"y","type":"quantitative","title":null},"text":{"field":"text"}}},
{"data":{"name":"scenUnit"},"mark":{"type":"text","align":"center","baseline":"middle","font":"Noto Sans CJK JP","fontSize":38,"fontWeight":"bold","color":"#000000"},
 "encoding":{"x":{"field":"x","type":"quantitative","title":null},"y":{"field":"y","type":"quantitative","title":null},"text":{"field":"text"}}},
{"data":{"name":"ashimoto"},"mark":{"type":"text","align":"center","baseline":"middle","font":"Noto Sans CJK JP","fontSize":29,"fontWeight":"bold","color":"#000000"},
 "encoding":{"x":{"field":"x","type":"quantitative","title":null},"y":{"field":"y","type":"quantitative","title":null},"text":{"field":"text"}}},
{"data":{"name":"fifty"},"mark":{"type":"text","align":"right","baseline":"alphabetic","font":"Noto Sans CJK JP","fontSize":54,"fontWeight":"bold","color":"#000000"},
 "encoding":{"x":{"field":"x","type":"quantitative","title":null},"y":{"field":"y","type":"quantitative","title":null},"text":{"field":"text"}}},
{"data":{"name":"fiftyUnit"},"mark":{"type":"text","align":"left","baseline":"alphabetic","font":"Noto Sans CJK JP","fontSize":32,"fontWeight":"bold","color":"#000000"},
 "encoding":{"x":{"field":"x","type":"quantitative","title":null},"y":{"field":"y","type":"quantitative","title":null},"text":{"field":"text"}}},
{"data":{"name":"yearLabel"},"mark":{"type":"text","align":"center","baseline":"middle","font":"Noto Sans CJK JP","fontSize":36,"fontWeight":"bold","color":"#FF0000"},
 "encoding":{"x":{"field":"x","type":"quantitative","title":null},"y":{"field":"y","type":"quantitative","title":null},"text":{"field":"text"}}},
{"data":{"name":"hdr"},"mark":{"type":"rect","fill":"#254061"},
 "encoding":{"x":{"field":"x","type":"quantitative","title":null},"x2":{"field":"x2"},"y":{"field":"y","type":"quantitative","title":null},"y2":{"field":"y2"}}},
{"data":{"name":"hdrText"},"mark":{"type":"text","align":"center","baseline":"middle","lineBreak":"\n","lineHeight":58,"font":"Noto Sans CJK JP","fontSize":44,"fontWeight":"bold","color":"#ffffff"},
 "encoding":{"x":{"field":"x","type":"quantitative","title":null},"y":{"field":"y","type":"quantitative","title":null},"text":{"field":"text"}}},
{"data":{"name":"rowsBg"},"mark":{"type":"rect","fill":"#DCE6F2"},
 "encoding":{"x":{"field":"x","type":"quantitative","title":null},"x2":{"field":"x2"},"y":{"field":"y","type":"quantitative","title":null},"y2":{"field":"y2"}}},
{"data":{"name":"bigNum"},"mark":{"type":"text","align":"right","baseline":"alphabetic","font":"Noto Sans CJK JP","fontSize":68,"fontWeight":"bold","color":"#000000"},
 "encoding":{"x":{"field":"x","type":"quantitative","title":null},"y":{"field":"y","type":"quantitative","title":null},"text":{"field":"text"}}},
{"data":{"name":"smallUnit"},"mark":{"type":"text","align":"left","baseline":"alphabetic","font":"Noto Sans CJK JP","fontSize":39,"fontWeight":"bold","color":"#000000"},
 "encoding":{"x":{"field":"x","type":"quantitative","title":null},"y":{"field":"y","type":"quantitative","title":null},"text":{"field":"text"}}},
{"data":{"name":"share"},"mark":{"type":"text","align":"right","baseline":"middle","font":"Noto Sans CJK JP","fontSize":33,"color":"#000000"},
 "encoding":{"x":{"field":"x","type":"quantitative","title":null},"y":{"field":"y","type":"quantitative","title":null},"text":{"field":"text"}}},
{"data":{"name":"arrowDown1"},"mark":{"type":"point","shape":"M -0.266 -1 L 0.266 -1 L 0.266 0.468 L 0.543 0.468 L 0 1 L -0.543 0.468 L -0.266 0.468 Z","filled":true,"size":29929,"fill":"#C6D9F1","stroke":"#2E4A6B","strokeWidth":2,"opacity":1},
 "encoding":{"x":{"field":"x","type":"quantitative","title":null},"y":{"field":"y","type":"quantitative","title":null}}},
{"data":{"name":"arrowDown2"},"mark":{"type":"point","shape":"M -0.233 -1 L 0.233 -1 L 0.233 0.547 L 0.465 0.547 L 0 1 L -0.465 0.547 L -0.233 0.547 Z","filled":true,"size":29584,"fill":"#C6D9F1","stroke":"#2E4A6B","strokeWidth":2,"opacity":1},
 "encoding":{"x":{"field":"x","type":"quantitative","title":null},"y":{"field":"y","type":"quantitative","title":null}}},
{"data":{"name":"cut"},"mark":{"type":"text","align":"left","baseline":"middle","lineBreak":"\n","lineHeight":50.5,"font":"Noto Sans CJK JP","fontSize":39.5,"fontWeight":"bold","color":"#000000"},
 "encoding":{"x":{"field":"x","type":"quantitative","title":null},"y":{"field":"y","type":"quantitative","title":null},"text":{"field":"text"}}},
{"data":{"name":"cutPct"},"mark":{"type":"text","align":"left","baseline":"middle","font":"Noto Sans CJK JP","fontSize":39.5,"fontWeight":"bold","color":"#C00000"},
 "encoding":{"x":{"field":"x","type":"quantitative","title":null},"y":{"field":"y","type":"quantitative","title":null},"text":{"field":"text"}}},
{"data":{"name":"foot"},"mark":{"type":"text","align":"left","baseline":"middle","font":"Noto Sans CJK JP","fontSize":24.5,"color":"#000000"},
 "encoding":{"x":{"field":"x","type":"quantitative","title":null},"y":{"field":"y","type":"quantitative","title":null},"text":{"field":"text"}}}
]
}
